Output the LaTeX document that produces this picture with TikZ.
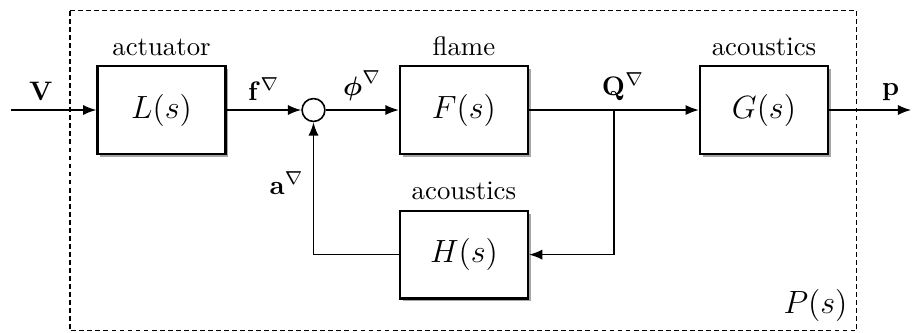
\documentclass[tikz,border=0pt]{standalone}
\usepackage{amsmath}
\usepackage{amssymb}
\usetikzlibrary{positioning,shadows,arrows.meta}

\tikzset{
  blk/.style={draw,thick,fill=white,drop shadow={shadow xshift=1.1pt,shadow yshift=-1.1pt,opacity=0.7},minimum width=1.68cm,minimum height=1.15cm,font=\large},
  sumnode/.style={draw,circle,semithick,fill=white,minimum size=0.3cm,inner sep=0pt},
  sig/.style={semithick,-{Latex[length=5pt,width=3.8pt]}},
}

\begin{document}
\begin{tikzpicture}
\useasboundingbox (0,0) rectangle (11.97,-4.37);
\draw[dash pattern=on 1.8pt off 1.2pt] (0.919,-0.144) rectangle (11.247,-4.344);
\node[anchor=south east,font=\large] (P) at (11.247,-4.344) {$P(s)$};
\node[blk,label=above:actuator] (L) at (2.12,-1.444) {$L(s)$};
\node[sumnode,right=0.98cm of L] (sum) {};
\node[blk,right=0.96cm of sum,label=above:flame] (F) {$F(s)$};
\node[blk,right=2.23cm of F,label=above:acoustics] (G) {$G(s)$};
\node[blk,below=0.72cm of F,label=above:acoustics] (H) {$H(s)$};
\coordinate (in) at (0.144,-1.444);
\coordinate (out) at (11.96,-1.444);
\coordinate (Q) at (8.058,-1.444);
% signals
\draw[sig] (in) -- node[above,pos=0.35] {$\mathbf{V}$} (L);
\draw[sig] (L) -- node[above] {$\mathbf{f}^\nabla$} (sum);
\draw[sig] (sum) -- node[above] {$\boldsymbol{\phi}^\nabla$} (F);
\draw[sig] (F) -- (G);
\node[above,xshift=0.12cm] (Qlab) at (Q) {$\mathbf{Q}^\nabla$};
\draw[sig] (Q) |- (H);
\draw[sig] (H) -| node[left,pos=0.77] {$\mathbf{a}^\nabla$} (sum);
\draw[sig] (G) -- node[above,pos=0.75] {$\mathbf{p}$} (out);
\end{tikzpicture}
\end{document}
